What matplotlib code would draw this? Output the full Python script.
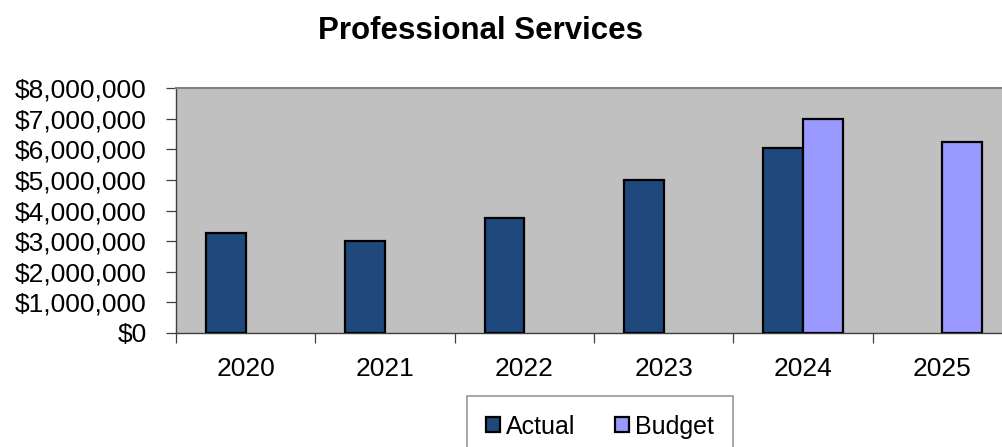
import matplotlib
matplotlib.use("Agg")
import matplotlib.pyplot as plt
import numpy as np
from matplotlib.ticker import FuncFormatter, FixedLocator

plt.rcParams['font.family'] = ['Liberation Sans', 'DejaVu Sans']

years = ["2020", "2021", "2022", "2023", "2024", "2025"]
actual = [3270000, 3000000, 3750000, 5000000, 6050000, None]
budget = [None, None, None, None, 6980000, 6250000]

fig = plt.figure(figsize=(10.03, 4.47), dpi=100)
ax = fig.add_axes([176 / 1003, 1 - 333 / 447, 836 / 1003, 245 / 447])
ax.set_facecolor("#C0C0C0")

x = np.arange(len(years))
w = 1 / 3.5
a_x = [xi for xi, v in zip(x, actual) if v is not None]
a_v = [v for v in actual if v is not None]
b_x = [xi for xi, v in zip(x, budget) if v is not None]
b_v = [v for v in budget if v is not None]
ax.bar(np.array(a_x) - w / 2, a_v, w, color="#1F497D", edgecolor="black",
       linewidth=1.6, label="Actual", zorder=3)
ax.bar(np.array(b_x) + w / 2, b_v, w, color="#9999FF", edgecolor="black",
       linewidth=1.6, label="Budget", zorder=3)

ax.set_xlim(-0.5, len(years) - 0.5)
ax.set_ylim(0, 8000000)
ax.set_yticks(np.arange(0, 8000001, 1000000))
ax.yaxis.set_major_formatter(FuncFormatter(lambda v, p: "${:,.0f}".format(v)))
ax.set_xticks(x)
ax.set_xticklabels(years)
ax.xaxis.set_minor_locator(FixedLocator(np.arange(-0.5, len(years), 1.0)))
ax.tick_params(axis="x", which="major", length=0, pad=17, labelsize=19)
ax.tick_params(axis="x", which="minor", length=7, width=0.9, color="#404040")
ax.tick_params(axis="y", length=7, width=0.9, color="#404040", labelsize=19, pad=14)

for s in ["top", "right"]:
    ax.spines[s].set_color("#808080")
    ax.spines[s].set_linewidth(1.5)
ax.spines["left"].set_color("#404040")
ax.spines["bottom"].set_color("#404040")
ax.spines["left"].set_linewidth(1.0)
ax.spines["bottom"].set_linewidth(1.0)

fig.text(481 / 1003, 1 - 31 / 447, "Professional Services", ha="center", va="center",
         fontsize=22.5, fontweight="bold")

leg = fig.legend(loc="upper center", bbox_to_anchor=(600 / 1003, 1 - 396 / 447),
                 ncol=2, fontsize=18, frameon=True, fancybox=False,
                 handlelength=0.55, handleheight=0.55, handletextpad=0.25,
                 columnspacing=1.6, borderpad=0.75, borderaxespad=0)
leg.get_frame().set_edgecolor("#808080")
leg.get_frame().set_linewidth(1.2)

fig.savefig("out.png", dpi=100)
